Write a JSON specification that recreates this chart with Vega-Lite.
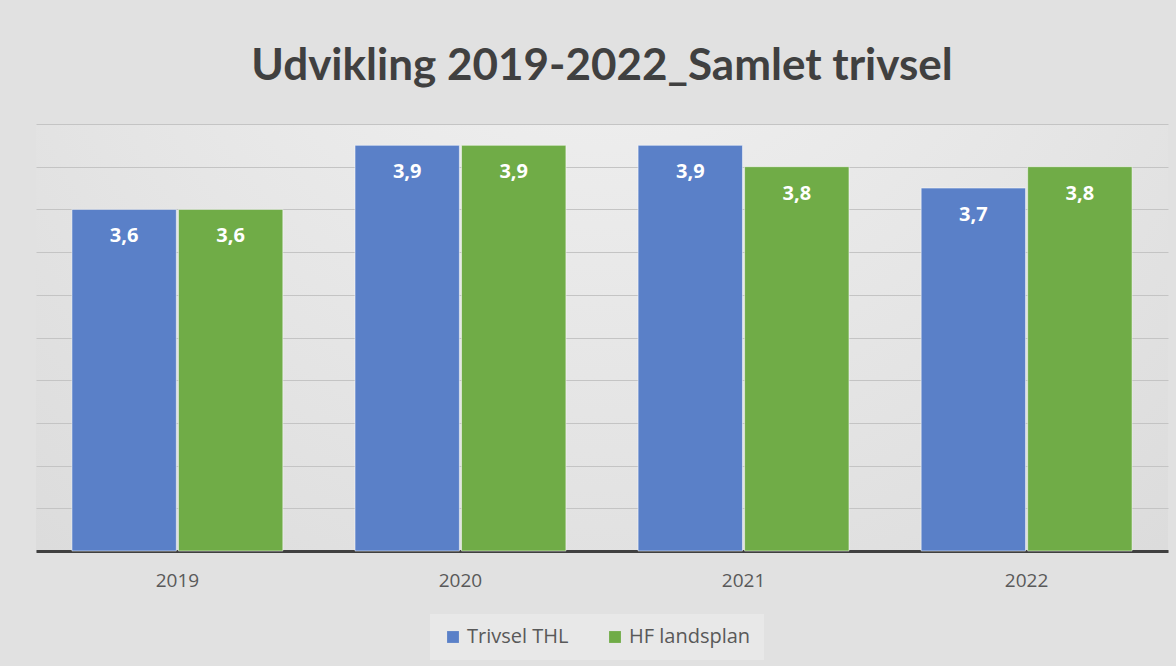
{
  "$schema": "https://vega.github.io/schema/vega-lite/v6.json",
  "width": 1132,
  "height": 427,
  "autosize": {"type": "none"},
  "padding": {"left": 36, "top": 124, "right": 8, "bottom": 115},
  "background": "#e1e1e1",
  "config": {
    "locale": {
      "number": {"decimal": ",", "thousands": ".", "grouping": [3], "currency": ["", " kr."]}
    },
    "view": {
      "stroke": null,
      "fill": {
        "gradient": "radial",
        "x1": 0.5, "y1": 0.1, "r1": 0,
        "x2": 0.5, "y2": 0.1, "r2": 0.9,
        "stops": [
          {"offset": 0, "color": "#f3f3f3"},
          {"offset": 1, "color": "#d8d8d8"}
        ]
      }
    }
  },
  "title": {
    "text": "Udvikling 2019-2022_Samlet trivsel",
    "font": "Lato",
    "fontSize": 44,
    "fontWeight": "bold",
    "color": "#404040",
    "anchor": "middle",
    "offset": 35
  },
  "data": {
    "values": [
      {"year": "2019", "serie": "Trivsel THL", "value": 3.6},
      {"year": "2019", "serie": "HF landsplan", "value": 3.6},
      {"year": "2020", "serie": "Trivsel THL", "value": 3.9},
      {"year": "2020", "serie": "HF landsplan", "value": 3.9},
      {"year": "2021", "serie": "Trivsel THL", "value": 3.9},
      {"year": "2021", "serie": "HF landsplan", "value": 3.8},
      {"year": "2022", "serie": "Trivsel THL", "value": 3.7},
      {"year": "2022", "serie": "HF landsplan", "value": 3.8}
    ]
  },
  "encoding": {
    "x": {
      "field": "year",
      "type": "nominal",
      "scale": {"paddingInner": 0.255, "paddingOuter": 0.127},
      "axis": {
        "title": null,
        "labelAngle": 0,
        "ticks": false,
        "labelPadding": 20,
        "labelFont": "Open Sans",
        "labelFontSize": 19,
        "labelColor": "#595959",
        "domainColor": "#404040",
        "domainWidth": 3,
        "grid": false
      }
    },
    "xOffset": {
      "field": "serie",
      "sort": ["Trivsel THL", "HF landsplan"],
      "scale": {"paddingInner": 0.02}
    },
    "y": {
      "field": "value",
      "type": "quantitative",
      "scale": {"domain": [2, 4], "zero": false, "clamp": true},
      "axis": {
        "title": null,
        "labels": false,
        "ticks": false,
        "domain": false,
        "values": [2, 2.2, 2.4, 2.6, 2.8, 3, 3.2, 3.4, 3.6, 3.8, 4],
        "gridColor": "#c4c4c4",
        "gridWidth": 1
      }
    }
  },
  "layer": [
    {
      "mark": {"type": "bar", "stroke": "#ffffff", "strokeOpacity": 0.5, "strokeWidth": 1},
      "encoding": {
        "color": {
          "field": "serie",
          "type": "nominal",
          "sort": ["Trivsel THL", "HF landsplan"],
          "scale": {"domain": ["Trivsel THL", "HF landsplan"], "range": ["#5a80c8", "#70ac47"]},
          "legend": {
            "orient": "none",
            "legendX": 394,
            "legendY": 490,
            "direction": "horizontal",
            "title": null,
            "symbolType": "square",
            "symbolSize": 140,
            "symbolStrokeWidth": 0,
            "labelFont": "Open Sans",
            "labelFontSize": 20,
            "labelColor": "#595959",
            "fillColor": "#e8e8e8",
            "padding": 13,
            "columnPadding": 36
          }
        }
      }
    },
    {
      "mark": {
        "type": "text",
        "dy": 27,
        "baseline": "middle",
        "color": "#ffffff",
        "font": "Open Sans",
        "fontSize": 20,
        "fontWeight": "bold"
      },
      "encoding": {
        "text": {"field": "value", "type": "quantitative", "format": ".1f"}
      }
    }
  ]
}
